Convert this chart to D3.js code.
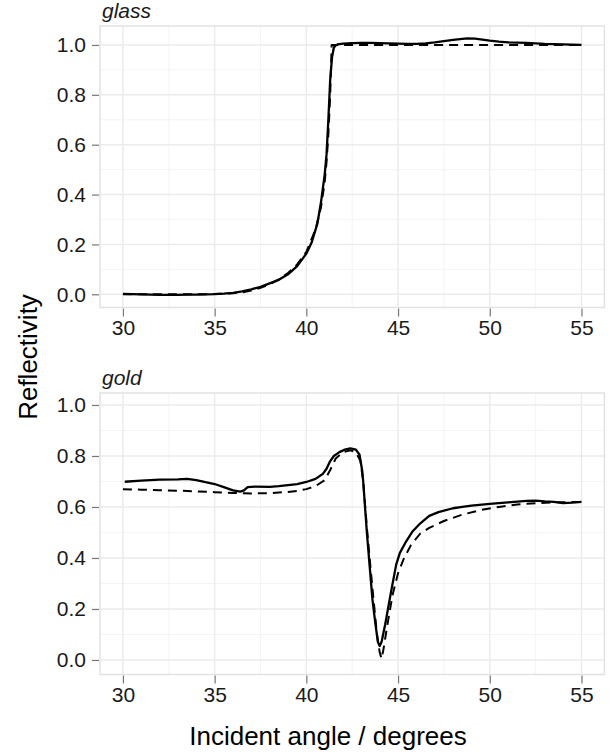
<!DOCTYPE html>
<html><head><meta charset="utf-8">
<script src="https://cdn.jsdelivr.net/npm/d3@7"></script>
<style>body{margin:0;background:#fff}svg{display:block}text{font-family:"Liberation Sans",Arial,sans-serif}</style>
</head><body><svg id="c" width="609" height="753"></svg>
<script>
// ---- data ----
const panels = ["glass", "gold"];
const xTicks = [30, 35, 40, 45, 50, 55];
const yTicks = [0, 0.2, 0.4, 0.6, 0.8, 1.0];
const yTickLabels = ["0.0", "0.2", "0.4", "0.6", "0.8", "1.0"];
const xLabel = "Incident angle / degrees";
const yLabel = "Reflectivity";

const glassMeasuredAngle = [30,30.5,31,31.5,32,32.5,33,33.5,34,34.5,35,35.5,36,36.5,37,37.5,38,38.5,39,39.5,40,40.3,40.6,40.8,41.0,41.1,41.2,41.3,41.4,41.5,41.6,41.7,42,42.5,43,43.5,44,44.5,45,45.5,46,46.5,47,47.5,48,48.5,48.8,49.2,49.5,50,50.5,51,51.5,52,52.5,53,53.5,54,54.5,55];
const glassMeasured =      [0.002,0.001,0.0,-0.001,-0.002,-0.002,-0.002,-0.001,-0.001,0.0,0.001,0.003,0.006,0.012,0.02,0.03,0.044,0.058,0.08,0.113,0.163,0.21,0.283,0.37,0.48,0.56,0.70,0.86,0.95,0.99,0.998,1.002,1.005,1.007,1.008,1.008,1.007,1.006,1.005,1.004,1.004,1.006,1.01,1.015,1.02,1.024,1.026,1.025,1.022,1.017,1.013,1.01,1.009,1.008,1.006,1.004,1.003,1.002,1.001,1.0];
const glassModelAngle = [30,32,34,35,36,36.5,37,37.5,38,38.5,39,39.5,40,40.5,40.8,41.0,41.1,41.2,41.3,41.35,41.38,42,45,50,55];
const glassModel =      [0.0,0.0,0.0,0.001,0.004,0.008,0.015,0.026,0.04,0.06,0.085,0.12,0.17,0.26,0.35,0.45,0.53,0.64,0.80,0.92,1.0,1.0,1.0,1.0,1.0];

const goldMeasuredAngle = [30.1,31,32,33,33.5,34,34.5,35,35.5,36,36.4,36.6,36.8,37.2,38,38.5,39,39.5,40,40.5,40.9,41.1,41.3,41.5,41.8,42.1,42.4,42.7,42.9,43.05,43.1,43.3,43.45,43.6,43.75,43.9,44.0,44.1,44.3,44.6,44.9,45.1,45.4,45.8,46.2,46.7,47.2,48,48.5,49,50,51,52,52.5,53,53.5,54,54.5,55];
const goldMeasured =      [0.699,0.703,0.707,0.708,0.71,0.705,0.697,0.69,0.678,0.665,0.66,0.665,0.678,0.68,0.679,0.682,0.686,0.69,0.698,0.71,0.73,0.75,0.78,0.80,0.815,0.825,0.83,0.825,0.805,0.74,0.70,0.50,0.37,0.24,0.15,0.07,0.055,0.07,0.14,0.26,0.375,0.42,0.46,0.505,0.535,0.565,0.58,0.595,0.60,0.605,0.612,0.618,0.624,0.625,0.622,0.62,0.615,0.617,0.62];
const goldModelAngle = [30,31,32,33,34,35,36,37,38,39,39.5,40,40.5,41,41.3,41.6,42.0,42.4,42.7,42.95,43.1,43.3,43.5,43.7,43.85,44.0,44.1,44.2,44.4,44.7,45.0,45.3,45.7,46.2,46.7,47.5,48.5,49.5,50.5,51.5,52.5,53.5,55];
const goldModel =      [0.67,0.668,0.666,0.664,0.661,0.658,0.655,0.653,0.654,0.659,0.663,0.67,0.682,0.705,0.745,0.79,0.815,0.822,0.815,0.78,0.70,0.52,0.36,0.21,0.10,0.03,0.005,0.04,0.13,0.255,0.34,0.395,0.45,0.495,0.518,0.545,0.57,0.588,0.60,0.61,0.615,0.618,0.62];

const series = {
  glass: [
    {angle: glassMeasuredAngle, r: glassMeasured, dashed: false},
    {angle: glassModelAngle, r: glassModel, dashed: true}
  ],
  gold: [
    {angle: goldMeasuredAngle, r: goldMeasured, dashed: false},
    {angle: goldModelAngle, r: goldModel, dashed: true}
  ]
};
// y-range of each facet (free scales, 5% expansion)
const yDomains = { glass: [-0.053, 1.076], gold: [-0.057, 1.047] };

// ---- layout ----
const svg = d3.select("#c");
const L = 100, R = 604.4;
const panelBox = { glass: [26, 307.5], gold: [393, 674.5] };
const x = d3.scaleLinear().domain([28.75, 56.25]).range([L, R]);

panels.forEach(p => {
  const [top, bot] = panelBox[p];
  const y = d3.scaleLinear().domain(yDomains[p]).range([bot, top]);
  const g = svg.append("g");
  // minor grid
  const xMinor = [32.5, 37.5, 42.5, 47.5, 52.5];
  const yMinor = [0.1, 0.3, 0.5, 0.7, 0.9];
  g.selectAll(".xm").data(xMinor).join("line")
    .attr("x1", d => x(d)).attr("x2", d => x(d)).attr("y1", top).attr("y2", bot)
    .attr("stroke", "#f4f4f4").attr("stroke-width", 1);
  g.selectAll(".ym").data(yMinor).join("line")
    .attr("x1", L).attr("x2", R).attr("y1", d => y(d)).attr("y2", d => y(d))
    .attr("stroke", "#f4f4f4").attr("stroke-width", 1);
  // major grid
  g.selectAll(".xM").data(xTicks).join("line")
    .attr("x1", d => x(d)).attr("x2", d => x(d)).attr("y1", top).attr("y2", bot)
    .attr("stroke", "#ebebeb").attr("stroke-width", 1.4);
  g.selectAll(".yM").data(yTicks).join("line")
    .attr("x1", L).attr("x2", R).attr("y1", d => y(d)).attr("y2", d => y(d))
    .attr("stroke", "#ebebeb").attr("stroke-width", 1.4);
  // border
  g.append("rect").attr("x", L).attr("y", top).attr("width", R - L).attr("height", bot - top)
    .attr("fill", "none").attr("stroke", "#e2e2e2").attr("stroke-width", 1.5);

  // lines
  const line = d3.line().x(d => x(d[0])).y(d => y(d[1])).curve(d3.curveLinear);
  series[p].forEach(s => {
    const pts = s.angle.map((a, i) => [a, s.r[i]]);
    g.append("path").attr("d", line(pts)).attr("fill", "none")
      .attr("stroke", "#000").attr("stroke-width", s.dashed ? 2 : 2.3)
      .attr("stroke-linejoin", "round")
      .attr("stroke-dasharray", s.dashed ? "9,6" : null);
  });

  // axes
  const ya = d3.axisLeft(y).tickValues(yTicks).tickFormat((d, i) => yTickLabels[i]).tickSize(7).tickPadding(6);
  const yg = svg.append("g").attr("transform", `translate(${L - 1},0)`).call(ya);
  yg.select(".domain").remove();
  yg.selectAll("line").attr("stroke", "#777").attr("stroke-width", 1.2);
  yg.selectAll("text").attr("font-size", 21).attr("fill", "#1a1a1a").attr("font-family", '"Liberation Sans",Arial,sans-serif');

  const xa = d3.axisBottom(x).tickValues(xTicks).tickFormat(d3.format("d")).tickSize(8).tickPadding(4);
  const xg = svg.append("g").attr("transform", `translate(0,${bot + 1})`).call(xa);
  xg.select(".domain").remove();
  xg.selectAll("line").attr("stroke", "#777").attr("stroke-width", 1.2);
  xg.selectAll("text").attr("font-size", 21).attr("fill", "#1a1a1a").attr("font-family", '"Liberation Sans",Arial,sans-serif');

  // strip label
  svg.append("text").attr("x", L + 2).attr("y", top - 8).attr("font-size", 21)
    .attr("font-style", "italic").attr("fill", "#1a1a1a").text(p);
});

svg.append("text").attr("x", 328).attr("y", 745).attr("text-anchor", "middle")
  .attr("font-size", 26).attr("fill", "#000").text(xLabel);
svg.append("text").attr("transform", `translate(37,357) rotate(-90)`)
  .attr("text-anchor", "middle").attr("font-size", 26).attr("fill", "#000").text(yLabel);
</script></body></html>
